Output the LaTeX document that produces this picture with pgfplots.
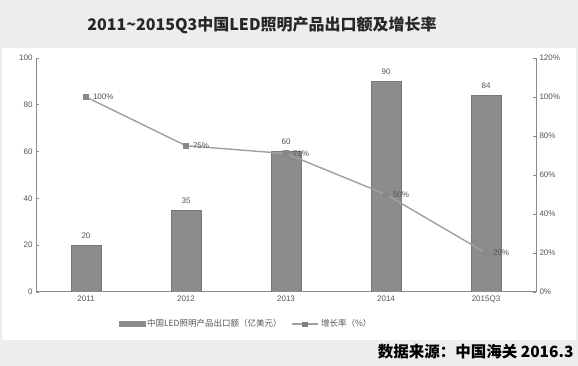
\documentclass[border=0pt]{standalone}
\usepackage{pgfplots}
\pgfplotsset{compat=1.18}
\usepackage{fontspec}
\setmainfont{Liberation Sans}
\newfontfamily\cjk{Noto Sans CJK SC}
\definecolor{bgray}{HTML}{EDEDED}
\definecolor{barc}{HTML}{8C8C8C}
\definecolor{linec}{HTML}{A0A0A0}
\definecolor{axc}{HTML}{8A8A8A}
\definecolor{txt}{HTML}{555555}
\begin{document}
\begin{tikzpicture}[x=1pt,y=1pt]
\fill[bgray] (0,0) rectangle (578,366);
\fill[white] (2,26) rectangle (576,318);
\node[font=\cjk\bfseries\fontsize{16}{18}\selectfont, text=black!85] at (262,341) {2011\textasciitilde 2015Q3中国LED照明产品出口额及增长率};
\node[anchor=east, font=\cjk\bfseries\fontsize{15.5}{17}\selectfont] at (577,14) {数据来源：中国海关\ 2016.3};
\begin{axis}[
  at={(36pt,74pt)}, anchor=south west,
  scale only axis, width=500pt, height=234pt,
  xmin=-0.5, xmax=4.5, ymin=0, ymax=100,
  xtick={0,1,2,3,4}, xticklabels={2011,2012,2013,2014,2015Q3},
  ytick={0,20,40,60,80,100},
  axis x line*=bottom, axis y line*=left,
  axis line style={axc, line width=1pt},
  tick style={axc, line width=0.6pt}, major tick length=3pt,
  x tick style={draw=none},
  tick label style={font=\fontsize{8}{9}\selectfont, text=txt},
  /pgf/number format/assume math mode=true,
  legend style={at={(0.42,-0.1)}, anchor=north, draw=none, fill=none,
    legend columns=2, font=\cjk\fontsize{8.5}{10}\selectfont, text=txt,
    /tikz/every even column/.append style={column sep=8pt}},
  legend image code/.code={\fill[barc] (0pt,-2.5pt) rectangle (26pt,2.5pt);},
]
\addplot[ybar, bar width=30pt, fill=barc, draw=barc!85!black,
  nodes near coords, every node near coord/.append style={font=\fontsize{8}{9}\selectfont, text=txt, yshift=3pt}]
  coordinates {(0,20) (1,35) (2,60) (3,90) (4,84)};
\addlegendentry{中国LED照明产品出口额（亿美元）}
\addlegendimage{legend image code/.code={\draw[linec, line width=1.5pt] (0pt,0pt) -- (26pt,0pt); \fill[linec!80!black] (10pt,-2pt) rectangle (15pt,2pt);}}
\addlegendentry{增长率（\%）}
\end{axis}
\begin{axis}[
  at={(36pt,74pt)}, anchor=south west,
  scale only axis, width=500pt, height=234pt,
  xmin=-0.5, xmax=4.5, ymin=0, ymax=120,
  axis x line=none, axis y line*=right,
  ytick={0,20,40,60,80,100,120},
  yticklabel={\pgfmathprintnumber{\tick}\%},
  axis line style={axc, line width=1pt},
  tick style={axc, line width=0.6pt}, major tick length=3pt,
  tick label style={font=\fontsize{8}{9}\selectfont, text=txt},
  /pgf/number format/assume math mode=true,
]
\addplot[linec, line width=1.4pt, mark=square*, mark size=2.5pt,
  mark options={fill=linec!85!black, draw=linec!85!black},
  nodes near coords={\pgfmathprintnumber{\pgfplotspointmeta}\%},
  every node near coord/.append style={font=\fontsize{8}{9}\selectfont, text=txt, anchor=west, xshift=3pt}]
  coordinates {(0,100) (1,75) (2,71) (3,50) (4,20)};
\end{axis}
\end{tikzpicture}
\end{document}
